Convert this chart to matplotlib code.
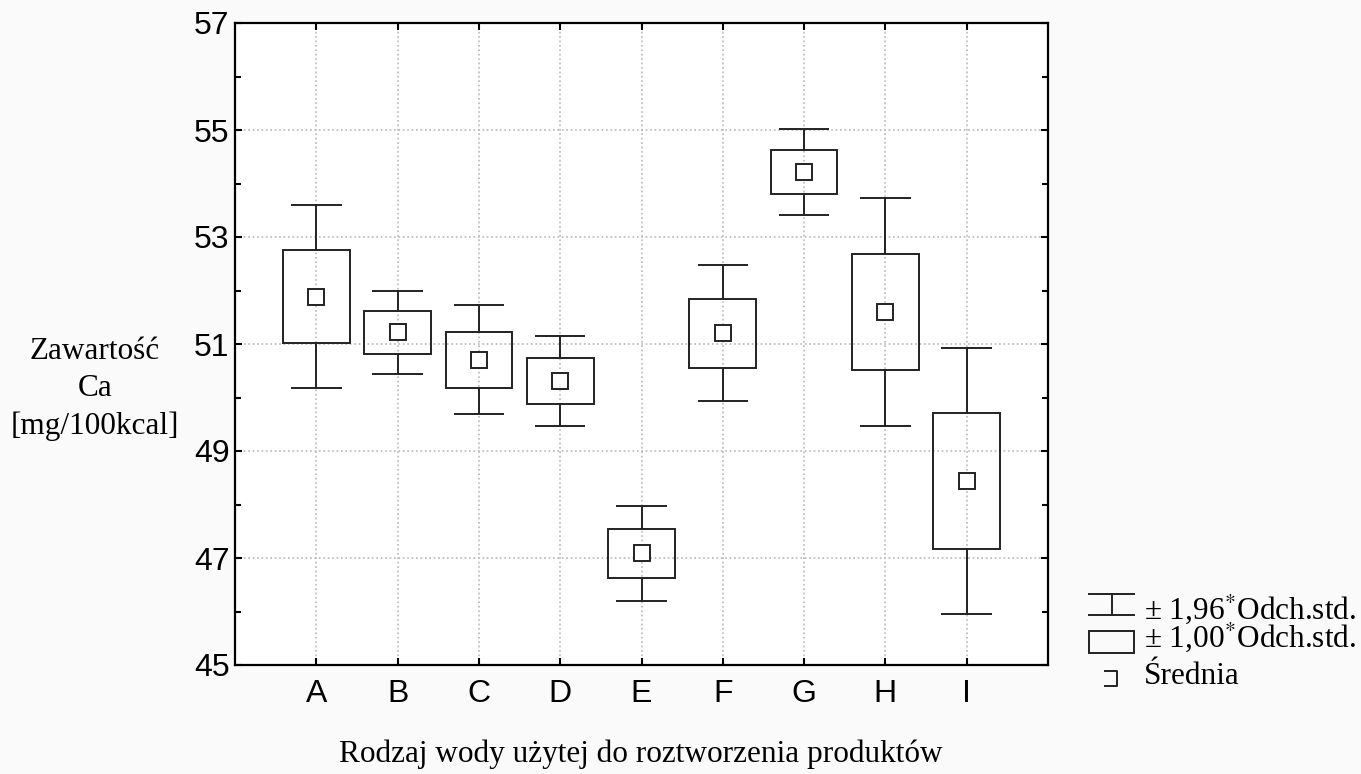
import matplotlib.pyplot as plt
import numpy as np
from matplotlib.patches import Rectangle

groups = ["A", "B", "C", "D", "E", "F", "G", "H", "I"]
means = [51.885, 51.215, 50.705, 50.31, 47.085, 51.20, 54.21, 51.595, 48.44]
sds = [0.875, 0.395, 0.52, 0.43, 0.455, 0.65, 0.41, 1.085, 1.27]

W, H = 1361, 774
serif = "Liberation Serif"
sans = "Liberation Sans"
ink = "#222222"

fig = plt.figure(figsize=(W / 100, H / 100), dpi=100, facecolor="#fafafa")
ax = fig.add_axes([235 / W, 1 - 665 / H, (1048 - 235) / W, (665 - 23) / H])
ax.set_facecolor("white")

for i, (m, s) in enumerate(zip(means, sds)):
    x = i + 1
    ax.add_patch(Rectangle((x - 0.41, m - s), 0.82, 2 * s, fill=False,
                           edgecolor=ink, lw=1.4, zorder=3))
    ax.vlines(x, m + s, m + 1.96 * s, color=ink, lw=1.4, zorder=3)
    ax.vlines(x, m - 1.96 * s, m - s, color=ink, lw=1.4, zorder=3)
    ax.hlines([m + 1.96 * s, m - 1.96 * s], x - 0.31, x + 0.31, color=ink, lw=1.4, zorder=3)
    ax.plot(x, m, marker="s", ms=11, mfc="white", mec=ink, mew=1.4, zorder=4)

ax.set_xlim(0, 10)
ax.set_ylim(45, 57)
ax.set_xticks(range(1, 10), groups)
ax.set_yticks(np.arange(45, 58, 2))
ax.set_yticks(np.arange(46, 57, 2), minor=True)
ax.grid(True, which="major", color="#b8b8b8", ls=":", lw=1.2)
ax.set_axisbelow(True)
ax.tick_params(which="both", direction="in", top=True, right=True, color="black")
ax.tick_params(which="major", length=5, width=1.5, labelsize=23)
ax.tick_params(which="minor", length=4, width=1.5)
ax.tick_params(axis="y", pad=4)
ax.tick_params(axis="x", pad=10)
for lab in ax.get_xticklabels() + ax.get_yticklabels():
    lab.set_fontfamily(sans)
for sp in ax.spines.values():
    sp.set_linewidth(1.6)

fig.text(95 / W, 1 - 389 / H, "Zawartość\nCa\n[mg/100kcal]", ha="center", va="center",
         multialignment="center", fontsize=22.5, family=serif, linespacing=1.38)
fig.text(641 / W, 1 - 762 / H, "Rodzaj wody użytej do roztworzenia produktów",
         ha="center", va="baseline", fontsize=22.5, family=serif)

# legend drawn in pixel coordinates
plt.rcParams["mathtext.fontset"] = "stix"
lg = fig.add_axes([0, 0, 1, 1], facecolor="none")
lg.set_xlim(0, W)
lg.set_ylim(H, 0)
lg.axis("off")
lg.plot([1089, 1134], [594, 594], color=ink, lw=1.4)
lg.plot([1089, 1134], [615, 615], color=ink, lw=1.4)
lg.plot([1112, 1112], [594, 615], color=ink, lw=1.4)
lg.add_patch(Rectangle((1089, 631), 45, 22, fill=False, edgecolor=ink, lw=1.4))
lg.plot([1105, 1117, 1117, 1105], [671, 671, 686, 686], color=ink, lw=1.4)
lg.text(1144, 619, r"± 1,96$^{*}$Odch.std.", fontsize=22.5, family=serif, va="baseline")
lg.text(1144, 647, r"± 1,00$^{*}$Odch.std.", fontsize=22.5, family=serif, va="baseline")
lg.text(1144, 684, "Średnia", fontsize=22.5, family=serif, va="baseline")

fig.savefig("out.png", dpi=100, facecolor=fig.get_facecolor())
